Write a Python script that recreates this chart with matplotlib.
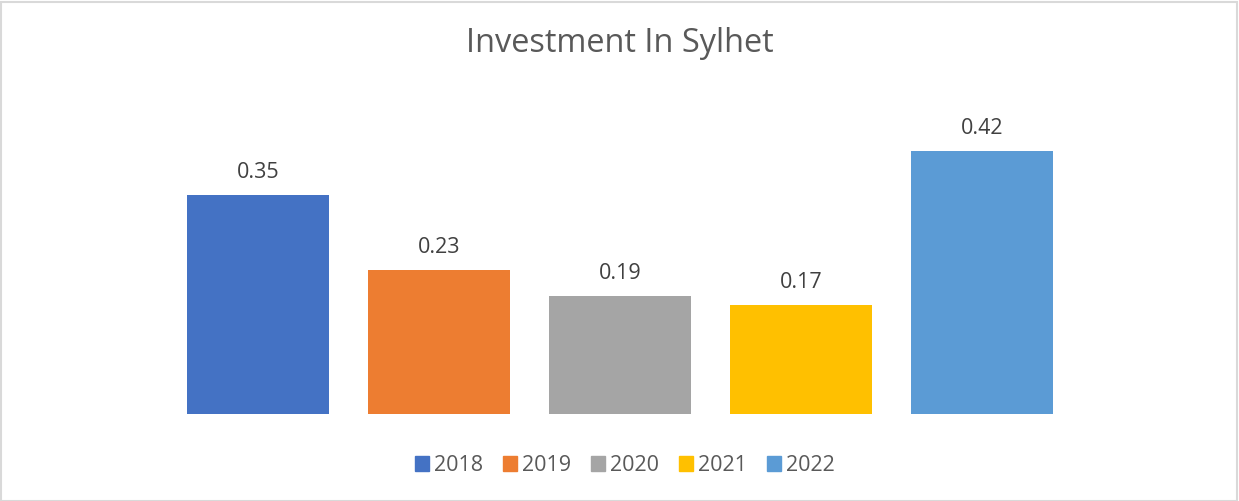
import numpy as np
import matplotlib.pyplot as plt
from matplotlib.patches import Rectangle

years = ['2018', '2019', '2020', '2021', '2022']
investment = [0.35, 0.23, 0.189, 0.174, 0.42]
colors = ['#4472C4', '#ED7D31', '#A5A5A5', '#FFC000', '#5B9BD5']

plt.rcParams['font.family'] = ['Open Sans', 'DejaVu Sans']

W, H = 1239, 501
fig = plt.figure(figsize=(W / 100, H / 100), dpi=100)
# plot area in figure pixels: x 150..1090, bottom at 414
ax = fig.add_axes([150 / W, (H - 414) / H, 940 / W, 281 / H])

x = np.arange(len(years))
bars = ax.bar(x, investment, width=0.785, color=colors)
ax.set_xlim(-0.597, 4.597)
ax.set_ylim(0, 281 / 625.7)

for b, v in zip(bars, investment):
    ax.annotate(f'{v:.2f}', (b.get_x() + b.get_width() / 2, v),
                xytext=(0, 12.2), textcoords='offset points',
                ha='center', va='baseline', fontsize=15.5, color='#404040')

ax.axis('off')

fig.text(0.5, 1 - 52 / H, 'Investment In Sylhet', ha='center', va='baseline',
         fontsize=23.4, color='#595959')

handles = [Rectangle((0, 0), 1, 1, color=c) for c in colors]
fig.legend(handles, years, loc='center', bbox_to_anchor=(624.5 / W, 1 - 465.5 / H),
           ncol=5, frameon=False, fontsize=15.5, labelcolor='#595959',
           handlelength=0.65, handleheight=0.65, handletextpad=0.23,
           columnspacing=0.93, borderpad=0)

fig.add_artist(Rectangle((0.5 / W, 0.5 / H), 1236 / W, 499 / H,
                         transform=fig.transFigure, fill=False,
                         edgecolor='#D9D9D9', linewidth=1.5))

fig.savefig('out.png', dpi=100)
